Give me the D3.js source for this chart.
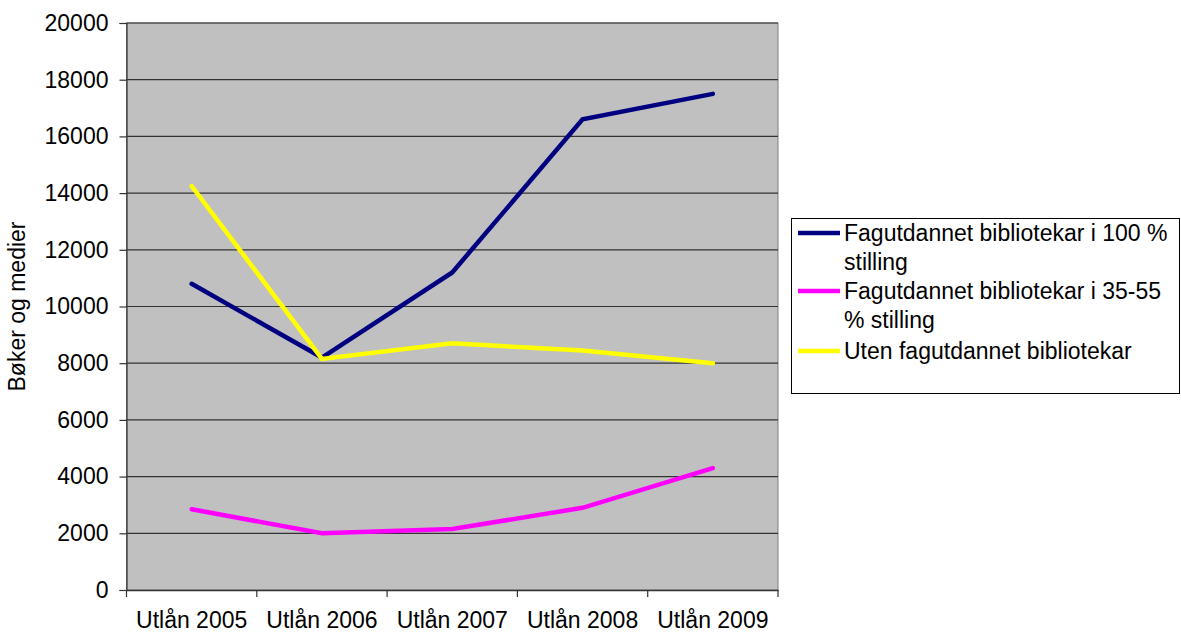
<!DOCTYPE html>
<html>
<head>
<meta charset="utf-8">
<script src="https://cdn.jsdelivr.net/npm/d3@7"></script>
<style>
  body { margin: 0; background: #fff; }
  text { font-family: "Liberation Sans", Arial, sans-serif; fill: #000; }
</style>
</head>
<body>
<svg id="chart" width="1181" height="632"></svg>
<script>
"use strict";

let categories = ["Utlån 2005", "Utlån 2006", "Utlån 2007", "Utlån 2008", "Utlån 2009"]
let seriesNames = [
  ["Fagutdannet bibliotekar i 100 %", "stilling"],
  ["Fagutdannet bibliotekar i 35-55", "% stilling"],
  ["Uten fagutdannet bibliotekar"]
]
let full100 = [10800, 8200, 11200, 16600, 17500]
let part3555 = [2850, 2000, 2150, 2900, 4300]
let without = [14250, 8150, 8700, 8450, 8000]
let yTicks = [0, 2000, 4000, 6000, 8000, 10000, 12000, 14000, 16000, 18000, 20000]
let colors = ["#000080", "#ff00ff", "#ffff00"]

let fontSize = "23px"
let svg = d3.select("#chart")
let plot = {left: 126.5, right: 778, top: 23, bottom: 590}

let x = d3.scaleBand().domain(categories).range([plot.left, plot.right])
let y = d3.scaleLinear().domain([0, 20000]).range([plot.bottom, plot.top])

// plot background
svg.append("rect")
    .attr("x", plot.left).attr("y", plot.top)
    .attr("width", plot.right - plot.left).attr("height", plot.bottom - plot.top)
    .attr("fill", "#c0c0c0")
    .attr("stroke", "#808080")

// gridlines
svg.append("g").selectAll("line").data(yTicks.slice(1)).join("line")
    .attr("x1", plot.left).attr("x2", plot.right)
    .attr("y1", d => y(d)).attr("y2", d => y(d))
    .attr("stroke", "#333").attr("stroke-width", 1.2)

// y axis
let yAxis = svg.append("g")
    .attr("transform", "translate(" + plot.left + ",0)")
    .call(d3.axisLeft(y).tickValues(yTicks).tickFormat(d3.format("d")).tickSize(7).tickPadding(11))
yAxis.select(".domain").attr("stroke", "#333").attr("stroke-width", 1.2)
yAxis.selectAll(".tick line").attr("stroke", "#333").attr("stroke-width", 1.2)
yAxis.selectAll("text").style("font-size", fontSize).attr("fill", "#000")

// x axis
let xAxis = svg.append("g")
    .attr("transform", "translate(0," + plot.bottom + ")")
    .call(d3.axisBottom(x).tickSize(0).tickPadding(22))
xAxis.select(".domain").attr("stroke", "#333").attr("stroke-width", 1.5)
xAxis.selectAll("text").style("font-size", fontSize).attr("fill", "#000")
// x tick marks on band edges
let edges = categories.map(c => x(c)).concat([plot.right])
svg.append("g").selectAll("line").data(edges).join("line")
    .attr("x1", d => d).attr("x2", d => d)
    .attr("y1", plot.bottom).attr("y2", plot.bottom + 7)
    .attr("stroke", "#333").attr("stroke-width", 1.2)

// y title
svg.append("text")
    .attr("transform", "translate(25," + ((plot.top + plot.bottom) / 2) + ") rotate(-90)")
    .attr("text-anchor", "middle")
    .style("font-size", fontSize)
    .text("Bøker og medier")

// lines
let line = d3.line()
    .x((d, i) => x(categories[i]) + x.bandwidth() / 2)
    .y(d => y(d))
let series = [full100, part3555, without]
svg.append("g").selectAll("path").data(series).join("path")
    .attr("d", line)
    .attr("fill", "none")
    .attr("stroke", (d, i) => colors[i])
    .attr("stroke-width", 4.5)
    .attr("stroke-linejoin", "miter")
    .attr("stroke-linecap", "round")

// legend
let lg = svg.append("g")
lg.append("rect")
    .attr("x", 791.5).attr("y", 218.5).attr("width", 388).attr("height", 175)
    .attr("fill", "#fff").attr("stroke", "#000").attr("stroke-width", 1)
let legendY = [233, 291, 351]
seriesNames.forEach((names, i) => {
  lg.append("line")
      .attr("x1", 798).attr("x2", 840)
      .attr("y1", legendY[i]).attr("y2", legendY[i])
      .attr("stroke", colors[i]).attr("stroke-width", 4.5)
  names.forEach((t, j) => {
    lg.append("text")
        .attr("x", 844).attr("y", legendY[i] + j * 29)
        .attr("dy", "0.35em")
        .style("font-size", fontSize)
        .text(t)
  })
})
</script>
</body>
</html>
